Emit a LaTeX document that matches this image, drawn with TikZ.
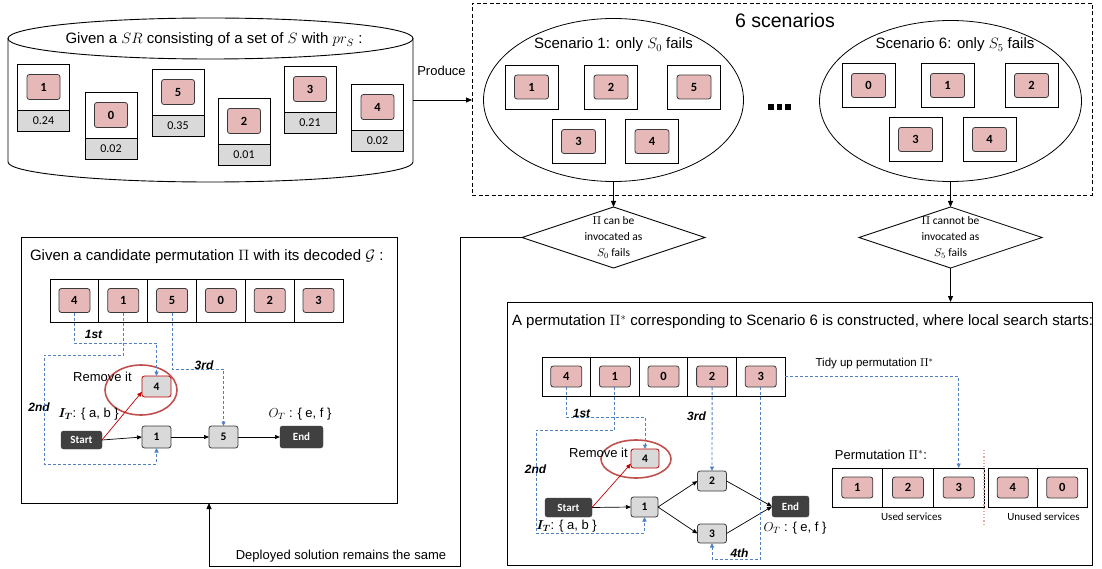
\documentclass[tikz,border=0pt]{standalone}
\usepackage{fix-cm}
\usepackage{fontspec}
\usepackage{amsmath}
\setmainfont{Liberation Sans}
\newfontfamily\calfont{Carlito}
\usetikzlibrary{arrows.meta,shapes.geometric,calc}

\definecolor{pinkfill}{HTML}{E6B9B8}
\definecolor{greyfill}{HTML}{D9D9D9}
\definecolor{darkfill}{HTML}{404040}
\definecolor{edgegrey}{HTML}{3A3A3A}
\definecolor{dashblue}{HTML}{4F81C4}
\definecolor{ringred}{HTML}{C0504D}
\definecolor{arrowred}{HTML}{C00000}
\definecolor{dividerpink}{HTML}{E8A8A8}

\tikzset{
  every node/.style={inner sep=0pt, outer sep=0pt},
  txt/.style={font=\fontsize{13}{15.6}\selectfont},
  titletxt/.style={font=\fontsize{15}{18}\selectfont},
  ordtxt/.style={font=\bfseries\itshape\fontsize{12}{14}\selectfont},
  smalltxt/.style={font=\calfont\fontsize{11}{13}\selectfont},
  pinkbox/.style={draw=edgegrey, fill=pinkfill, rounded corners=2.5pt, line width=0.8pt,
    font=\calfont\bfseries\fontsize{12.5}{14}\selectfont},
  cell/.style={draw, fill=white, line width=0.8pt},
  probbox/.style={draw, fill=greyfill, line width=0.8pt, minimum width=52pt, minimum height=21pt,
    font=\calfont\fontsize{12}{14}\selectfont},
  gnode/.style={draw=edgegrey, fill=greyfill, rounded corners=2.5pt, line width=0.8pt,
    font=\calfont\bfseries\fontsize{11.5}{13}\selectfont},
  removed/.style={gnode, draw=arrowred},
  term/.style={draw=darkfill, fill=darkfill, rounded corners=2.5pt, text=white,
    font=\calfont\bfseries\fontsize{11}{13}\selectfont},
  ring/.style={draw=ringred, ellipse, line width=1.6pt},
  flow/.style={line width=0.8pt, -{Triangle[length=6pt,width=5pt]}},
  link/.style={line width=0.7pt, -{Triangle[length=5pt,width=4pt]}},
  redlink/.style={link, arrowred},
  dep/.style={dashblue, line width=0.9pt, dash pattern=on 3pt off 2pt,
    -{Triangle[length=4.5pt,width=4pt]}},
  decision/.style={draw, diamond, line width=0.8pt, minimum width=183pt, minimum height=61pt, aspect=3},
  dlabel/.style={align=center, font=\calfont\fontsize{11.5}{16}\selectfont},
}

% a service with its failure probability: name, centre x, top y, id, probability
\newcommand\svcbox[5]{%
  \node[cell, minimum width=52pt, minimum height=46pt] (#1c) at (#2,#3+23) {};
  \node[probbox] (#1p) at (#2,#3+56.5) {#5};
  \node[pinkbox, minimum width=33pt, minimum height=25pt] (#1) at (#1c) {#4};}

% a service inside a scenario: name, centre x, centre y, id
\newcommand\scbox[4]{%
  \node[cell, minimum width=53pt, minimum height=44pt] (#1c) at (#2,#3) {};
  \node[pinkbox, minimum width=34pt, minimum height=24pt] (#1) at (#1c) {#4};}

\begin{document}
\begin{tikzpicture}[x=1pt, y=-1pt]
\useasboundingbox (0,0) rectangle (1102,569);

% ---------- service repository ----------
\draw[line width=0.9pt] (8,38.5) -- (8,162) arc[start angle=180, end angle=0, x radius=202.5, y radius=20] -- (413,38.5);
\draw[line width=0.9pt] (210.5,38.5) ellipse[x radius=202.5, y radius=20.5];
\node[titletxt] (srtitle) at (214,40) {Given a $SR$ consisting of a set of $S$ with $pr_S$ :};
\svcbox{sr1}{43.5}{64}{1}{0.24}
\svcbox{sr0}{111}{92}{0}{0.02}
\svcbox{sr5}{178}{69}{5}{0.35}
\svcbox{sr2}{244}{98}{2}{0.01}
\svcbox{sr3}{310}{66}{3}{0.21}
\svcbox{sr4}{377.5}{84}{4}{0.02}

% ---------- failure scenarios ----------
\node[draw, line width=0.8pt, dash pattern=on 4pt off 2.5pt, minimum width=620pt, minimum height=192pt] (scen) at (782,99) {};
\node[font=\fontsize{19.5}{22}\selectfont] (scentitle) at (785,21) {6 scenarios};

\node[draw, ellipse, line width=0.8pt, minimum width=260pt, minimum height=163pt] (e1) at (613.5,100) {};
\node[titletxt] (e1title) at (613.5,45) {Scenario 1: only $S_0$ fails};
\scbox{sa1}{531.5}{87}{1}
\scbox{sa2}{611}{87}{2}
\scbox{sa5}{694}{87}{5}
\scbox{sa3}{578.5}{141.5}{3}
\scbox{sa4}{652}{141.5}{4}

\node[draw, ellipse, line width=0.8pt, minimum width=262pt, minimum height=161pt] (e2) at (950.5,101) {};
\node[titletxt] (e2title) at (955,45) {Scenario 6: only $S_5$ fails};
\scbox{sb0}{868.5}{85.5}{0}
\scbox{sb1}{947.5}{85.5}{1}
\scbox{sb2}{1031.5}{85.5}{2}
\scbox{sb3}{915.5}{139.5}{3}
\scbox{sb4}{989.5}{139.5}{4}

\foreach \dx in {771,779.5,788} \fill (\dx-2.7,104.3) rectangle (\dx+2.7,109.7);

\coordinate (cylR) at (413,100);
\draw[flow] (cylR) -- (scen.west |- cylR);
\node[txt] at (441.5,71) {Produce};

% ---------- decisions ----------
\node[decision, label={[dlabel]center:{$\Pi$ can be\\invocated as\\$S_0$ fails}}] (d1) at (613.5,237.5) {};
\node[decision, label={[dlabel]center:{$\Pi$ cannot be\\invocated as\\$S_5$ fails}}] (d2) at (950.5,237.5) {};
\draw[flow] (e1.south) -- (d1.north);
\draw[flow] (e2.south) -- (d2.north);

% ---------- left panel: candidate permutation ----------
\node[draw, line width=0.8pt, minimum width=376pt, minimum height=266pt] (lpanel) at (209,370) {};
\node[titletxt, anchor=west] at (30,257) {Given a candidate permutation $\Pi$ with its decoded $\mathcal{G}$ :};
\foreach \lab [count=\i] in {4,1,5,0,2,3} {
  \node[cell, minimum width=48.83pt, minimum height=43pt] (lc\i) at ({50+48.83*(\i-0.5)},300.5) {};
  \node[pinkbox, minimum width=31pt, minimum height=24pt] (la\lab) at (lc\i) {\lab};
}
\node[removed, minimum width=29pt, minimum height=21pt] (lg4) at (156.5,386.5) {4};
\node[ring, minimum width=72pt, minimum height=50pt] (lring) at (141,390) {};
\node[txt] at (102.5,377) {Remove it};
\node[term, minimum width=41pt, minimum height=18pt] (lstart) at (81.5,440) {Start};
\node[gnode, minimum width=29pt, minimum height=22pt] (lg1) at (156.5,437) {1};
\node[gnode, minimum width=29pt, minimum height=22pt] (lg5) at (223.5,437) {5};
\node[term, minimum width=43pt, minimum height=22pt] (lend) at (301.5,437) {End};
\draw[link] (lstart.east) -- (lg1.west);
\draw[link] (lg1) -- (lg5);
\draw[link] (lg5) -- (lend);
\draw[redlink] (lstart.east) -- (lg4.200);
\node[txt] at (88.5,414) {$\boldsymbol{I_T}$: \{ a, b \}};
\node[txt] at (300,414) {$O_T$ : \{ e, f \}};
\node[ordtxt] at (93.5,334) {1st};
\node[ordtxt] at (39,407) {2nd};
\node[ordtxt] at (204,365) {3rd};
\draw[dep] (la4.south) |- (156.5,343) -- (lg4.north);
\draw[dep] (la1.south) |- (44,355) -- (44,464) -| (lg1.south);
\draw[dep] (la5.south) |- (223.5,369) -- (lg5.north);

\coordinate (ret) at (460,566);
\draw[flow] (d1.west) -| (ret) -| (lpanel.south);
\node[txt] at (341,556) {Deployed solution remains the same};

% ---------- right panel: local search ----------
\node[draw, line width=0.8pt, minimum width=585pt, minimum height=263pt] (rpanel) at (799.5,433.5) {};
\node[titletxt, anchor=west] at (512,322) {A permutation $\Pi^{*}$ corresponding to Scenario 6 is constructed, where local search starts:};
\draw[flow] (d2.south) -- (rpanel.north -| d2.south);

\foreach \lab [count=\i] in {4,1,0,2,3} {
  \node[cell, minimum width=48.6pt, minimum height=39pt] (rc\i) at ({542+48.6*(\i-0.5)},376.5) {};
  \node[pinkbox, minimum width=31pt, minimum height=21pt] (ra\lab) at (rc\i) {\lab};
}
\node[font=\fontsize{11.5}{14}\selectfont] at (874.5,364) {Tidy up permutation $\Pi^{*}$};

\node[removed, minimum width=28pt, minimum height=19pt] (rg4) at (645,458.5) {4};
\node[ring, minimum width=70pt, minimum height=38pt] (rring) at (636,459) {};
\node[txt] at (598.5,453) {Remove it};
\node[term, minimum width=47pt, minimum height=19pt] (rstart) at (568.5,507.5) {Start};
\node[gnode, minimum width=27pt, minimum height=20pt] (rg1) at (644.5,507) {1};
\node[gnode, minimum width=29pt, minimum height=20pt] (rg2) at (712,481) {2};
\node[gnode, minimum width=29pt, minimum height=19pt] (rg3) at (712,533.5) {3};
\node[term, minimum width=37pt, minimum height=21pt] (rend) at (790.5,506.5) {End};
\draw[link] (rstart.east) -- (rg1.west);
\draw[link] (rg1.east) -- (rg2.west);
\draw[link] (rg1.east) -- (rg3.west);
\draw[link] (rg2.east) -- (rend.west);
\draw[link] (rg3.east) -- (rend.west);
\draw[redlink] (rstart.east) -- (rg4.200);
\node[txt] at (566.5,526) {$\boldsymbol{I_T}$: \{ a, b \}};
\node[txt] at (795,528) {$O_T$ : \{ e, f \}};
\node[ordtxt] at (581.5,413) {1st};
\node[ordtxt] at (535.5,469) {2nd};
\node[ordtxt] at (696.5,416) {3rd};
\node[ordtxt] at (739.5,553) {4th};
\draw[dep] (ra4.south) |- (645,417) -- (rg4.north);
\draw[dep] (ra1.south) |- (536,430) -- (536,533) -| (rg1.south);
\draw[dep] (ra2.south) -- (rg2.north);
\draw[dep] (ra3.south) |- (712,559) -- (rg3.south);

% tidied permutation
\foreach \lab [count=\i] in {1,2,3} {
  \node[cell, minimum width=50.67pt, minimum height=39pt] (pc\i) at ({832+50.67*(\i-0.5)},487.5) {};
  \node[pinkbox, minimum width=31pt, minimum height=21pt] (pa\lab) at (pc\i) {\lab};
}
\foreach \lab [count=\i from 4] in {4,0} {
  \node[cell, minimum width=49.5pt, minimum height=39pt] (pc\i) at ({988+49.5*(\i-3.5)},487.5) {};
  \node[pinkbox, minimum width=31pt, minimum height=21pt] (pa\lab) at (pc\i) {\lab};
}
\draw[dep] (rc5.east) -| (pc3.north);
\node[txt] at (881,455) {Permutation $\Pi^{*}$:};
\coordinate (divtop) at (984,450);
\coordinate (divbot) at (984,525);
\draw[dividerpink, line width=1.2pt, dotted] (divtop) -- (divbot);
\node[smalltxt] at (911.5,517) {Used services};
\node[smalltxt] at (1043.5,517) {Unused services};
\end{tikzpicture}
\end{document}
